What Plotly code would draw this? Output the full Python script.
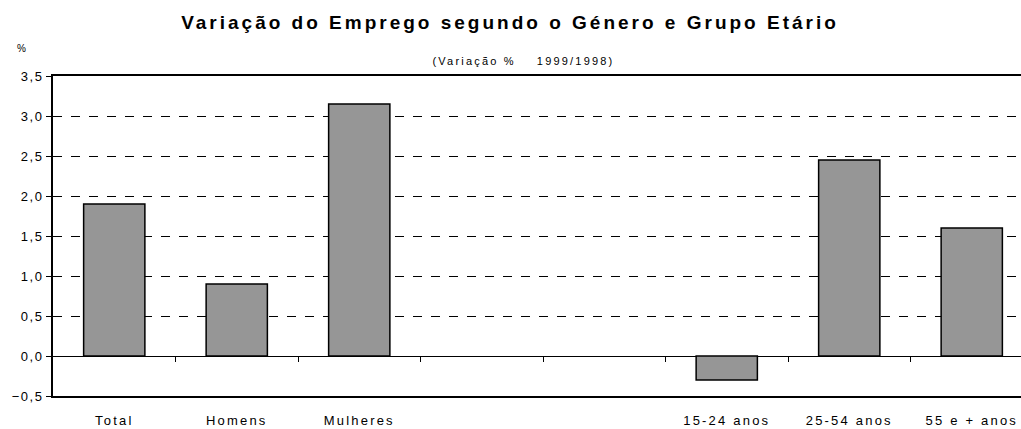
import plotly.graph_objects as go

categories = ["Total", "Homens", "Mulheres", "", "", "15-24 anos", "25-54 anos", "55 e + anos"]
values = [1.9, 0.9, 3.15, None, None, -0.3, 2.45, 1.6]
y_ticks = [-0.5, 0.0, 0.5, 1.0, 1.5, 2.0, 2.5, 3.0, 3.5]

positions = list(range(len(categories)))
boundaries = [p + 0.5 for p in positions[:-1]]

FONT = "Liberation Sans, Arial, sans-serif"

fig = go.Figure()
fig.add_trace(go.Bar(
    x=positions, y=values, width=0.5,
    marker=dict(color="#969696", line=dict(color="black", width=1.5)),
    showlegend=False, hoverinfo="skip",
))

xrange = [-0.5, len(categories) - 0.5 - 12 / 122.5]

W, H = 1021 - 53, 429 - 76 - 33

fig.update_layout(
    width=1021, height=429,
    margin=dict(l=53, r=0, t=76, b=33),
    paper_bgcolor="white", plot_bgcolor="white",
    separators=",.",
    font=dict(family=FONT, color="black", size=13),
    title=dict(text="<b>Variação do Emprego segundo o Género e Grupo Etário</b>",
               x=(510 - 0) / 1021, xanchor="center", y=1 - 22 / 429, yanchor="middle",
               font=dict(size=19, family=FONT, color="black")),
    xaxis=dict(
        range=xrange, tickvals=positions, ticktext=categories,
        showgrid=False, zeroline=False, ticks="",
        showline=True, linecolor="black", linewidth=1.5, mirror=True,
        ticklabelstandoff=12, tickfont=dict(size=13),
    ),
    xaxis2=dict(
        overlaying="x", anchor="free", position=40 / H, side="bottom",
        range=xrange, tickvals=boundaries, showticklabels=False,
        ticks="outside", ticklen=5, tickcolor="black", tickwidth=1,
        showgrid=False, zeroline=False, showline=False,
    ),
    yaxis=dict(
        range=[-0.5, 3.5], tickvals=y_ticks, tickformat=".1f",
        showgrid=True, gridcolor="black", griddash="dash", gridwidth=1,
        zeroline=True, zerolinecolor="black", zerolinewidth=1.2,
        showline=True, linecolor="black", linewidth=2,
        ticks="outside", ticklen=5, tickcolor="black",
        tickfont=dict(size=13),
    ),
    annotations=[
        dict(text="(Variação %    1999/1998)", xref="paper", yref="paper",
             x=(523 - 53) / W, y=(396 - 61) / H, xanchor="center", yanchor="middle",
             showarrow=False, font=dict(size=11)),
        dict(text="%", xref="paper", yref="paper",
             x=(22 - 53) / W, y=(396 - 49) / H, xanchor="center", yanchor="middle",
             showarrow=False, font=dict(size=10)),
    ],
)

# invisible trace so that the overlaying axis is drawn
fig.add_trace(go.Scatter(x=[xrange[0]], y=[0], xaxis="x2", mode="markers",
                         marker=dict(opacity=0), showlegend=False, hoverinfo="skip"))

post = """
document.body.style.margin = '0px';
var gd = document.getElementById('{plot_id}');
function spacing() {
  gd.querySelectorAll('.gtitle').forEach(function(e){ e.style.letterSpacing = '3px'; });
  gd.querySelectorAll('.xtick text').forEach(function(e){ e.style.letterSpacing = '2.2px'; });
  gd.querySelectorAll('.ytick text').forEach(function(e){ e.style.letterSpacing = '1.5px'; });
  gd.querySelectorAll('.annotation-text').forEach(function(e){ e.style.letterSpacing = '2.2px'; });
}
spacing();
gd.on('plotly_afterplot', spacing);
"""

fig.write_html("out.html", post_script=post, config={"displayModeBar": False})
